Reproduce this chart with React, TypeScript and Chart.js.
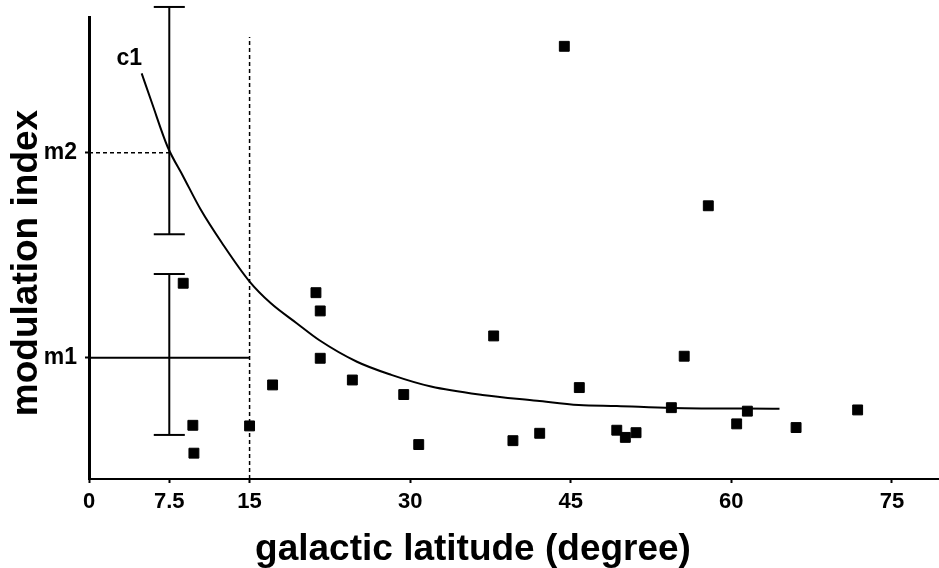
import React, { useEffect, useRef } from 'react';
import { Chart, registerables } from 'chart.js';

Chart.register(...registerables);

// ---- data ----
const latitude = [8.8, 9.7, 9.8, 15.0, 17.15, 21.2, 21.6, 21.6, 24.6, 29.4, 30.8, 37.8, 39.6, 42.1, 44.4, 45.8, 49.3, 50.1, 51.1, 54.4, 55.6, 57.85, 60.5, 61.5, 66.05, 71.8];
const modIndex = [1.363, 0.67, 0.534, 0.667, 0.867, 1.317, 1.228, 0.997, 0.891, 0.82, 0.576, 1.106, 0.595, 0.631, 2.519, 0.854, 0.646, 0.611, 0.634, 0.756, 1.007, 1.741, 0.677, 0.739, 0.659, 0.745];

const curveLat = [4.92, 5.89, 7.34, 8.81, 10.46, 12.44, 15.0, 16.99, 19.4, 21.49, 25.03, 28.24, 31.95, 36.75, 41.85, 45.75, 49.3, 54.4, 64.5];
const curveIdx = [2.387, 2.241, 2.029, 1.883, 1.72, 1.558, 1.371, 1.265, 1.168, 1.086, 0.98, 0.916, 0.859, 0.818, 0.79, 0.769, 0.764, 0.755, 0.751];

const xTickValues = [0, 7.5, 15, 30, 45, 60, 75];
const yTickValues = [1, 2];
const yTickLabels = ['m1', 'm2'];

const errorBarX = 7.5;
const errorBarM2 = [1.602, 2.711];
const errorBarM1 = [0.623, 1.408];
const capHalfWidth = 1.45;

const m1Value = 1;
const m2Value = 2;
const cutLatitude = 15;
const cutLineTop = 2.564;

const xMin = 0;
const xMax = 79.4;
const yMin = 0.408;
const yMax = 2.662;

const curveLabel = 'c1';
const curveLabelPos = [3.76, 2.46];

const xTitle = 'galactic latitude (degree)';
const yTitle = 'modulation index';

const FAMILY = "'Liberation Sans', Arial, sans-serif";

function seg(x0: number, y0: number, x1: number, y1: number) {
  return [{ x: x0, y: y0 }, { x: x1, y: y1 }];
}

export default function App() {
  const canvasRef = useRef<HTMLCanvasElement | null>(null);

  useEffect(() => {
    if (!canvasRef.current) return;

    const lineBase = {
      showLine: true,
      pointRadius: 0,
      borderColor: '#000',
      backgroundColor: '#000',
      fill: false,
    };

    const textPlugin = {
      id: 'textPlugin',
      afterDraw(chart: any) {
        const { ctx, scales, chartArea } = chart;
        ctx.save();
        ctx.fillStyle = '#000';
        // curve label
        ctx.font = `bold 23px ${FAMILY}`;
        ctx.textAlign = 'center';
        ctx.textBaseline = 'middle';
        ctx.fillText(curveLabel, scales.x.getPixelForValue(curveLabelPos[0]), scales.y.getPixelForValue(curveLabelPos[1]));
        // x-axis title
        ctx.font = `bold 37px ${FAMILY}`;
        ctx.textBaseline = 'alphabetic';
        ctx.fillText(xTitle, chartArea.left + 384, chartArea.bottom + 81);
        // y-axis title
        ctx.translate(chartArea.left - 52, chartArea.top + 246);
        ctx.rotate(-Math.PI / 2);
        ctx.fillText(yTitle, 0, 0);
        ctx.restore();
      },
    };

    const chart = new Chart(canvasRef.current, {
      type: 'scatter',
      data: {
        datasets: [
          {
            ...lineBase,
            data: curveLat.map((x, i) => ({ x, y: curveIdx[i] })),
            borderWidth: 2,
            cubicInterpolationMode: 'monotone',
          } as any,
          {
            ...lineBase,
            data: seg(cutLatitude, yMin, cutLatitude, cutLineTop),
            borderWidth: 1.5,
            borderDash: [4, 3],
          },
          {
            ...lineBase,
            data: seg(xMin, m2Value, errorBarX, m2Value),
            borderWidth: 1.5,
            borderDash: [4, 3],
          },
          {
            ...lineBase,
            data: seg(xMin, m1Value, cutLatitude, m1Value),
            borderWidth: 2,
          },
          // error bar around m2
          { ...lineBase, clip: false, borderWidth: 2, data: seg(errorBarX, errorBarM2[0], errorBarX, errorBarM2[1]) } as any,
          { ...lineBase, clip: false, borderWidth: 2, data: seg(errorBarX - capHalfWidth, errorBarM2[1], errorBarX + capHalfWidth, errorBarM2[1]) } as any,
          { ...lineBase, clip: false, borderWidth: 2, data: seg(errorBarX - capHalfWidth, errorBarM2[0], errorBarX + capHalfWidth, errorBarM2[0]) } as any,
          // error bar around m1
          { ...lineBase, borderWidth: 2, data: seg(errorBarX, errorBarM1[0], errorBarX, errorBarM1[1]) },
          { ...lineBase, borderWidth: 2, data: seg(errorBarX - capHalfWidth, errorBarM1[1], errorBarX + capHalfWidth, errorBarM1[1]) },
          { ...lineBase, borderWidth: 2, data: seg(errorBarX - capHalfWidth, errorBarM1[0], errorBarX + capHalfWidth, errorBarM1[0]) },
          // observed sources
          {
            data: latitude.map((x, i) => ({ x, y: modIndex[i] })),
            showLine: false,
            pointStyle: 'rect',
            pointRadius: 7,
            pointBorderWidth: 1,
            pointBackgroundColor: '#000',
            pointBorderColor: '#000',
          } as any,
        ],
      },
      options: {
        animation: false,
        responsive: true,
        maintainAspectRatio: false,
        layout: { autoPadding: false, padding: { top: 17, left: 0, right: 0, bottom: 0 } },
        plugins: { legend: { display: false }, tooltip: { enabled: false } },
        scales: {
          x: {
            type: 'linear',
            min: xMin,
            max: xMax,
            afterBuildTicks: (s: any) => {
              s.ticks = xTickValues.map((v) => ({ value: v }));
            },
            afterFit: (s: any) => {
              s.height = 89;
              s.paddingLeft = 0;
              s.paddingRight = 0;
            },
            ticks: {
              color: '#000',
              padding: 6,
              autoSkip: false,
              maxRotation: 0,
              font: { family: FAMILY, size: 22, weight: 'bold' },
              callback: (v: any) => String(v),
            },
            grid: { drawOnChartArea: false, drawTicks: true, tickLength: 4, color: '#000', tickWidth: 2 },
            border: { display: true, color: '#000', width: 2 },
            title: { display: false },
          },
          y: {
            type: 'linear',
            min: yMin,
            max: yMax,
            afterBuildTicks: (s: any) => {
              s.ticks = yTickValues.map((v) => ({ value: v }));
            },
            afterFit: (s: any) => {
              s.width = 89;
              s.paddingTop = 0;
              s.paddingBottom = 0;
            },
            ticks: {
              color: '#000',
              padding: 8,
              autoSkip: false,
              font: { family: FAMILY, size: 23, weight: 'bold' },
              callback: (v: any) => {
                const i = yTickValues.indexOf(Number(v));
                return i >= 0 ? yTickLabels[i] : '';
              },
            },
            grid: { drawOnChartArea: false, drawTicks: true, tickLength: 4, color: '#000', tickWidth: 2 },
            border: { display: true, color: '#000', width: 3 },
            title: { display: false },
          },
        },
      } as any,
      plugins: [textPlugin],
    });

    return () => chart.destroy();
  }, []);

  return (
    <div style={{ position: 'fixed', left: 0, top: 0, width: 939, height: 568, background: '#fff' }}>
      <canvas ref={canvasRef} />
    </div>
  );
}
